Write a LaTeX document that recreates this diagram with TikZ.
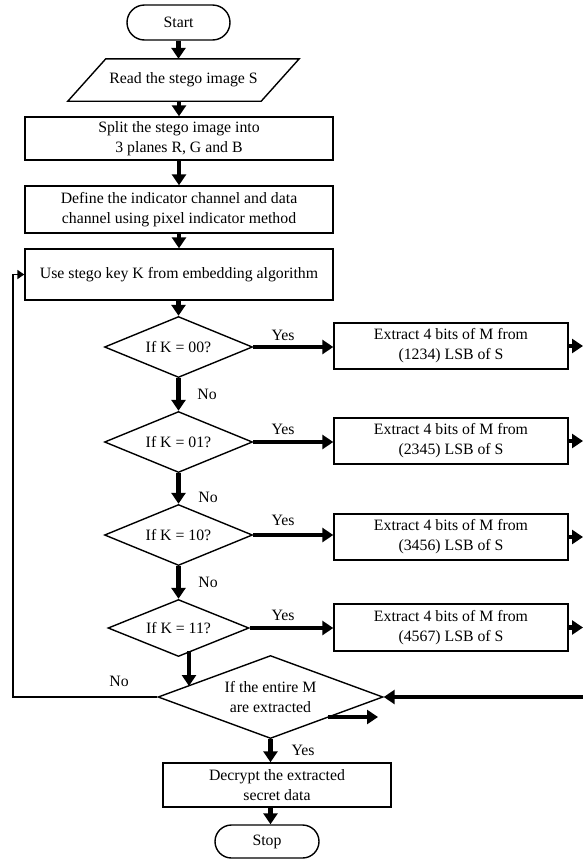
\documentclass[tikz,border=0pt]{standalone}
\usepackage{fontspec}
\setmainfont{Liberation Serif}
\usetikzlibrary{shapes.geometric,shapes.misc,arrows.meta}
\begin{document}
\begin{tikzpicture}[x=1pt,y=-1pt,
  font=\fontsize{15.8}{20}\selectfont,
  outline/.style={draw, line width=1.4pt},
  box/.style={outline, inner sep=0pt, align=center, minimum width=308pt},
  ebox/.style={outline, inner sep=0pt, align=center, minimum width=234pt, minimum height=46pt},
  term/.style={outline, rounded rectangle, inner sep=0pt, minimum width=103pt, minimum height=35pt},
  decision/.style={outline, diamond, aspect=2.5, inner sep=0pt, align=center, minimum width=148pt, minimum height=61pt},
  arr/.style={line width=4.2pt, -{Triangle[length=11pt,width=14pt]}},
  loopline/.style={line width=1.8pt, -{Triangle[length=7pt,width=9pt]}},
  lbl/.style={inner sep=0pt}
]
\useasboundingbox (0,0) rectangle (583,860);
\coordinate (rightedge) at (583,0);
\coordinate (leftx) at (13,0);

% main column
\node[term] (start) at (178.5,22.5) {Start};
\node[inner sep=0pt, minimum width=193pt, minimum height=42pt] (read) at (183.5,80) {Read the stego image S};
\draw[line width=1.4pt] ([xshift=-19pt]read.south west) -- ([xshift=19pt]read.north west)
  -- ([xshift=19pt]read.north east) -- ([xshift=-19pt]read.south east) -- cycle;
\node[box, minimum height=43pt] (split) at (179,138.5) {Split the stego image into\\3 planes R, G and B};
\node[box, minimum height=47pt] (define) at (179,209.5) {Define the indicator channel and data\\channel using pixel indicator method};
\node[box, minimum height=51pt] (use) at (179,274.5) {Use stego key K from embedding algorithm};

\node[decision] (d1) at (178.5,347) {If K = 00?};
\node[decision] (d2) at (178.5,442) {If K = 01?};
\node[decision] (d3) at (178.5,535) {If K = 10?};
\node[decision, minimum width=141pt, minimum height=57pt] (d4) at (178.5,628) {If K = 11?};

\node[ebox] (e1) at (451,346) {Extract 4 bits of M from\\(1234) LSB of S};
\node[ebox] (e2) at (451,441) {Extract 4 bits of M from\\(2345) LSB of S};
\node[ebox] (e3) at (451,537) {Extract 4 bits of M from\\(3456) LSB of S};
\node[ebox, minimum height=47pt] (e4) at (451,627.5) {Extract 4 bits of M from\\(4567) LSB of S};

\node[decision, aspect=2.7, minimum width=225pt, minimum height=83pt] (big) at (270.5,697) {If the entire M\\are extracted};
\node[box, minimum width=228pt, minimum height=44pt] (dec) at (277,785) {Decrypt the extracted\\secret data};
\node[term, minimum width=104pt, minimum height=33pt] (stop) at (267,841.5) {Stop};

% labels
\node[lbl] (y1) at (283,335) {Yes};
\node[lbl] (y2) at (283,429) {Yes};
\node[lbl] (y3) at (283,520) {Yes};
\node[lbl] (y4) at (283,615) {Yes};
\node[lbl] (n1) at (207,394) {No};
\node[lbl] (n2) at (208,497) {No};
\node[lbl] (n3) at (208,582) {No};
\node[lbl] (n4) at (119,681) {No};
\node[lbl] (y5) at (303,750) {Yes};

% connectors
\draw[arr] (start.south) -- (start.south |- read.north);
\draw[arr] (read.south -| split.north) -- (split.north);
\draw[arr] (split.south) -- (define.north);
\draw[arr] (define.south) -- (use.north);
\draw[arr] (use.south -| d1.north) -- (d1.north);
\draw[arr] (d1.south) -- (d2.north);
\draw[arr] (d2.south) -- (d3.north);
\draw[arr] (d3.south) -- (d4.north);

\draw[arr] (d1.east) -- (d1.east -| e1.west);
\draw[arr] (d2.east) -- (d2.east -| e2.west);
\draw[arr] (d3.east) -- (d3.east -| e3.west);
\draw[arr] (d4.east) -- (d4.east -| e4.west);

\draw[arr] (e1.east) -- (e1.east -| rightedge);
\draw[arr] (e2.east) -- (e2.east -| rightedge);
\draw[arr] (e3.east) -- (e3.east -| rightedge);
\draw[arr] (e4.east) -- (e4.east -| rightedge);

\coordinate (d4out) at (189,651);
\coordinate (bigin) at (189,686);
\draw[arr] (d4out) -- (bigin);

\draw[arr] (big.east -| rightedge) -- (big.east);
\coordinate (sa) at (328,717);
\coordinate (sb) at (378,717);
\draw[arr] (sa) -- (sb);

\draw[loopline] (big.west) -- (big.west -| leftx) -- (use.west -| leftx) -- (use.west);

\draw[arr] (big.south) -- (big.south |- dec.north);
\draw[arr] (dec.south -| big.south) -- (stop.north -| big.south);
\end{tikzpicture}
\end{document}
